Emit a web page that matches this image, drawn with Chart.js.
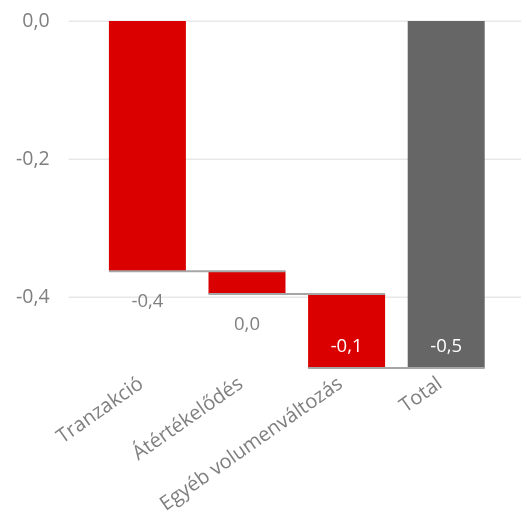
<!DOCTYPE html>
<html><head><meta charset="utf-8">
<script src="https://cdn.jsdelivr.net/npm/chart.js@4"></script>
<style>html,body{margin:0;padding:0;background:#fff}#wrap{width:521px;height:515px}</style>
</head><body><div id="wrap"><canvas id="c"></canvas></div>
<script>
const categories = ['Tranzakció', 'Átértékelődés', 'Egyéb volumenváltozás', 'Total'];
const changes = [-0.362, -0.033, -0.107];
const totalValue = -0.502;
const tickValues = [-0.4, -0.2, 0];
const barColors = ['#da0000', '#da0000', '#da0000', '#666666'];
const labelInside = [false, false, true, true];

// floating ranges built from the changes
const ranges = [];
let run = 0;
changes.forEach(c => { ranges.push([run, run + c]); run += c; });
ranges.push([0, totalValue]);
const labelValues = changes.concat([totalValue]);

function fmt(v) {
  const r = Math.round(v * 10) / 10;
  if (Math.abs(r) < 1e-9) return '0,0';
  return r.toFixed(1).replace('.', ',');
}

const FONT = "'Open Sans', sans-serif";
const TXT = '#7f7f7f';

const gridPlugin = {
  id: 'fullGrid',
  beforeDatasetsDraw(chart) {
    const ctx = chart.ctx, y = chart.scales.y;
    ctx.save();
    ctx.strokeStyle = '#e8e8e8';
    ctx.lineWidth = 1.5;
    tickValues.forEach(t => {
      const py = Math.round(y.getPixelForValue(t)) + 0.25;
      ctx.beginPath();
      ctx.moveTo(chart.chartArea.left - 29, py);
      ctx.lineTo(chart.width, py);
      ctx.stroke();
    });
    ctx.restore();
  }
};

const connectorPlugin = {
  id: 'connectors',
  afterDatasetsDraw(chart) {
    const ctx = chart.ctx, y = chart.scales.y;
    const bars = chart.getDatasetMeta(0).data;
    ctx.save();
    ctx.strokeStyle = '#a6a6a6';
    ctx.lineWidth = 2;
    for (let i = 0; i < bars.length - 1; i++) {
      const lvl = ranges[i][1];
      const py = y.getPixelForValue(lvl);
      const a = bars[i], b = bars[i + 1];
      ctx.beginPath();
      ctx.moveTo(a.x - a.width / 2, py);
      ctx.lineTo(b.x + b.width / 2, py);
      ctx.stroke();
    }
    ctx.restore();
  }
};

const labelPlugin = {
  id: 'valueLabels',
  afterDatasetsDraw(chart) {
    const ctx = chart.ctx, y = chart.scales.y;
    const bars = chart.getDatasetMeta(0).data;
    ctx.save();
    ctx.font = '18.5px ' + FONT;
    ctx.textAlign = 'center';
    ctx.textBaseline = 'middle';
    bars.forEach((bar, i) => {
      const bottom = y.getPixelForValue(ranges[i][1]);
      if (labelInside[i]) {
        ctx.fillStyle = '#ffffff';
        ctx.fillText(fmt(labelValues[i]), bar.x, bottom - 21);
      } else {
        ctx.fillStyle = TXT;
        ctx.fillText(fmt(labelValues[i]), bar.x, bottom + 31);
      }
    });
    ctx.restore();
  }
};

new Chart(document.getElementById('c'), {
  type: 'bar',
  data: {
    labels: categories,
    datasets: [{
      data: ranges,
      backgroundColor: barColors,
      borderWidth: 0,
      barPercentage: 0.773,
      categoryPercentage: 1.0
    }]
  },
  options: {
    responsive: true,
    maintainAspectRatio: false,
    animation: false,
    layout: { padding: { top: 21, right: 25, left: 0, bottom: 0 } },
    plugins: { legend: { display: false }, tooltip: { enabled: false } },
    scales: {
      x: {
        grid: { display: false, drawTicks: false },
        border: { display: false },
        ticks: {
          color: TXT,
          font: { family: FONT, size: 20 },
          maxRotation: 35, minRotation: 35,
          autoSkip: false,
          labelOffset: -6,
          padding: 4
        },
        afterFit(s) { s.height = 147; s.paddingLeft = 0; s.paddingRight = 0; }
      },
      y: {
        min: -0.502,
        max: 0,
        grid: { display: false, drawTicks: false },
        border: { display: false },
        afterBuildTicks(s) { s.ticks = tickValues.map(v => ({ value: v })); },
        ticks: {
          color: TXT,
          font: { family: FONT, size: 19.5 },
          padding: 48,
          callback: v => fmt(v)
        },
        afterFit(s) { s.width = 97.6; s.paddingTop = 0; s.paddingBottom = 0; }
      }
    }
  },
  plugins: [gridPlugin, connectorPlugin, labelPlugin]
});
</script></body></html>
